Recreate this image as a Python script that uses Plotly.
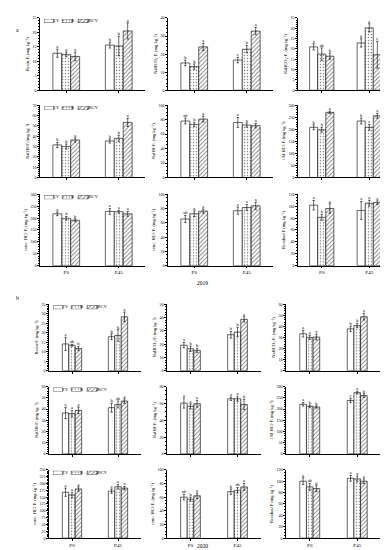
import plotly.graph_objects as go

W, H = 388, 550
FONT = "Liberation Serif"

series = ["CV", "R", "IRCV"]
times = ["P0", "P45"]
years = ["2019", "2020"]

titles = [
    "Resin-Pᵢ (mg kg⁻¹)",
    "NaHCO₃-Pᵢ (mg kg⁻¹)",
    "NaHCO₃-Pₒ (mg kg⁻¹)",
    "NaOH-Pᵢ (mg kg⁻¹)",
    "NaOH-Pₒ (mg kg⁻¹)",
    "1 M HCl-Pᵢ (mg kg⁻¹)",
    "conc. HCl-Pᵢ (mg kg⁻¹)",
    "conc. HCl-Pₒ (mg kg⁻¹)",
    "Residual P (mg kg⁻¹)",
]

# ---- 2019: values [CV, R, IRCV] x [P0, P45]
v19_resin_pi = [[12.8, 15.6], [12.4, 15.3], [11.7, 20.5]]
v19_nahco3_pi = [[15.1, 16.7], [13.1, 22.7], [24.0, 32.7]]
v19_nahco3_po = [[21.0, 22.9], [17.5, 30.2], [16.5, 17.2]]
v19_naoh_pi = [[31.5, 35.3], [29.9, 37.9], [36.3, 53.3]]
v19_naoh_po = [[78.0, 76.0], [73.4, 72.5], [80.7, 71.6]]
v19_hcl1_pi = [[208, 234], [198, 208], [270, 256]]
v19_chcl_pi = [[218, 228], [199, 227], [191, 218]]
v19_chcl_po = [[65.4, 77.0], [72.8, 81.6], [76.5, 83.9]]
v19_resid = [[101.7, 92.9], [81.3, 105.0], [96.2, 106.0]]

e19_resin_pi = [[1.4, 1.0], [0.8, 3.4], [1.5, 2.8]]
e19_nahco3_pi = [[1.6, 1.5], [1.5, 2.0], [2.0, 2.0]]
e19_nahco3_po = [[1.5, 2.0], [3.0, 2.0], [1.5, 6.5]]
e19_naoh_pi = [[2.5, 2.0], [2.5, 3.0], [2.0, 4.0]]
e19_naoh_po = [[4.0, 7.0], [3.0, 3.0], [4.0, 3.0]]
e19_hcl1_pi = [[10, 12], [10, 12], [5, 10]]
e19_chcl_pi = [[8, 12], [8, 6], [6, 10]]
e19_chcl_po = [[5, 5], [4, 4], [3, 5]]
e19_resid = [[8, 15], [5, 5], [8, 3]]

l19_resin_pi = [["a", "b"], ["a", "b"], ["a", "a"]]
l19_nahco3_pi = [["b", "c"], ["b", "b"], ["a", "a"]]
l19_nahco3_po = [["a", "b"], ["ab", "a"], ["b", "c"]]
l19_naoh_pi = [["b", "b"], ["b", "b"], ["a", "a"]]
l19_naoh_po = [["ab", "a"], ["b", "a"], ["a", "a"]]
l19_hcl1_pi = [["b", "b"], ["b", "c"], ["a", "a"]]
l19_chcl_pi = [["a", "a"], ["b", "a"], ["b", "a"]]
l19_chcl_po = [["ab", "a"], ["a", "a"], ["a", "a"]]
l19_resid = [["a", "a"], ["b", "a"], ["a", "a"]]

# ---- 2020
v20_resin_pi = [[14.1, 17.9], [13.4, 18.6], [11.7, 28.4]]
v20_nahco3_pi = [[19.2, 27.1], [16.5, 29.1], [15.3, 38.7]]
v20_nahco3_po = [[33.4, 37.8], [30.1, 40.8], [30.4, 48.8]]
v20_naoh_pi = [[36.5, 41.2], [35.9, 44.1], [38.8, 47.1]]
v20_naoh_po = [[60.4, 65.5], [56.5, 65.5], [59.6, 58.8]]
v20_hcl1_pi = [[221, 238], [212, 273], [209, 260]]
v20_chcl_pi = [[168, 172], [158, 188], [180, 183]]
v20_chcl_po = [[60.0, 68.0], [57.0, 70.0], [62.0, 75.0]]
v20_resid = [[100.0, 105.0], [90.0, 104.0], [87.0, 100.0]]

e20_resin_pi = [[3.5, 1.5], [0.5, 3.0], [1.0, 2.5]]
e20_nahco3_pi = [[2.0, 2.5], [2.0, 3.5], [1.5, 2.0]]
e20_nahco3_po = [[3.0, 2.5], [2.0, 2.0], [2.5, 3.0]]
e20_naoh_pi = [[5.0, 4.0], [3.0, 3.0], [3.0, 2.0]]
e20_naoh_po = [[6.0, 2.0], [3.0, 3.0], [4.0, 6.0]]
e20_hcl1_pi = [[8, 10], [6, 6], [5, 8]]
e20_chcl_pi = [[15, 8], [10, 8], [8, 6]]
e20_chcl_po = [[4, 4], [3, 4], [4, 5]]
e20_resid = [[6, 5], [6, 5], [5, 4]]

l20_resin_pi = [["a", "b"], ["ab", "b"], ["b", "a"]]
l20_nahco3_pi = [["a", "b"], ["b", "b"], ["b", "a"]]
l20_nahco3_po = [["a", "b"], ["a", "b"], ["a", "a"]]
l20_naoh_pi = [["a", "b"], ["a", "ab"], ["a", "a"]]
l20_naoh_po = [["a", "a"], ["a", "a"], ["a", "b"]]
l20_hcl1_pi = [["a", "c"], ["b", "a"], ["b", "b"]]
l20_chcl_pi = [["a", "a"], ["a", "a"], ["a", "a"]]
l20_chcl_po = [["ab", "b"], ["b", "ab"], ["a", "a"]]
l20_resid = [["a", "a"], ["ab", "a"], ["b", "a"]]

ymax19 = [25, 40, 35, 70, 100, 300, 300, 100, 120]
dtick19 = [5, 10, 5, 10, 20, 50, 50, 20, 20]
ymax20 = [35, 50, 60, 60, 80, 300, 250, 100, 120]
dtick20 = [5, 10, 10, 10, 20, 50, 25, 20, 20]

vals = {
    "2019": [v19_resin_pi, v19_nahco3_pi, v19_nahco3_po, v19_naoh_pi, v19_naoh_po,
             v19_hcl1_pi, v19_chcl_pi, v19_chcl_po, v19_resid],
    "2020": [v20_resin_pi, v20_nahco3_pi, v20_nahco3_po, v20_naoh_pi, v20_naoh_po,
             v20_hcl1_pi, v20_chcl_pi, v20_chcl_po, v20_resid],
}
errs = {
    "2019": [e19_resin_pi, e19_nahco3_pi, e19_nahco3_po, e19_naoh_pi, e19_naoh_po,
             e19_hcl1_pi, e19_chcl_pi, e19_chcl_po, e19_resid],
    "2020": [e20_resin_pi, e20_nahco3_pi, e20_nahco3_po, e20_naoh_pi, e20_naoh_po,
             e20_hcl1_pi, e20_chcl_pi, e20_chcl_po, e20_resid],
}
lets = {
    "2019": [l19_resin_pi, l19_nahco3_pi, l19_nahco3_po, l19_naoh_pi, l19_naoh_po,
             l19_hcl1_pi, l19_chcl_pi, l19_chcl_po, l19_resid],
    "2020": [l20_resin_pi, l20_nahco3_pi, l20_nahco3_po, l20_naoh_pi, l20_naoh_po,
             l20_hcl1_pi, l20_chcl_pi, l20_chcl_po, l20_resid],
}
ymaxs = {"2019": ymax19, "2020": ymax20}
dticks = {"2019": dtick19, "2020": dtick20}

# ---- layout geometry (pixels)
cols_px = {"2019": [(32, 137), (160, 265), (290, 385)],
           "2020": [(41, 133), (159, 253), (278, 373)]}
rows_px = {"2019": [(7, 80), (95, 168), (185, 257)],
           "2020": [(296, 363), (379, 447), (463, 532)]}
bar_w = {"2019": 0.17, "2020": 0.14}
patterns = ["", ".", "/"]
solid = [0.3, 0.2, 0.3]


def px_x(p):
    return p / W


def px_y(p):
    return 1 - p / H


def bar_marker(k):
    return dict(color="white", line=dict(color="black", width=0.6),
                pattern=dict(shape=patterns[k], fgcolor="black", bgcolor="white",
                             size=3, solidity=solid[k]))


fig = go.Figure()
layout = {}
ax = 0
for yr in years:
    for pi in range(9):
        r, c = divmod(pi, 3)
        ax += 1
        xa = "x" if ax == 1 else f"x{ax}"
        ya = "y" if ax == 1 else f"y{ax}"
        w = bar_w[yr]
        for k, s in enumerate(series):
            xs = [t + (k - 1) * w for t in range(len(times))]
            fig.add_trace(go.Bar(
                x=xs, y=vals[yr][pi][k], width=w, name=s, showlegend=False,
                marker=bar_marker(k),
                error_y=dict(type="data", array=errs[yr][pi][k], color="black",
                             thickness=0.6, width=1.2),
                xaxis=xa, yaxis=ya,
            ))
            tops = [v + e for v, e in zip(vals[yr][pi][k], errs[yr][pi][k])]
            fig.add_trace(go.Scatter(
                x=xs, y=tops, mode="text", text=lets[yr][pi][k],
                textposition="top center", showlegend=False,
                textfont=dict(size=4.5, family=FONT, color="black"),
                xaxis=xa, yaxis=ya, cliponaxis=False,
            ))
        x0, x1 = cols_px[yr][c]
        t0, t1 = rows_px[yr][r]
        layout[f"xaxis{ax}"] = dict(
            domain=[px_x(x0), px_x(x1)], anchor=ya, range=[-0.5, 1.5],
            tickvals=list(range(len(times))), ticktext=times,
            showticklabels=(r == 2),
            showline=True, linecolor="black", linewidth=0.6, ticks="outside",
            ticklen=2, tickwidth=0.6, tickcolor="black", showgrid=False, zeroline=False,
            tickfont=dict(size=5, family=FONT, color="black"), fixedrange=True,
        )
        layout[f"yaxis{ax}"] = dict(
            domain=[px_y(t1), px_y(t0)], anchor=xa, range=[0, ymaxs[yr][pi]],
            dtick=dticks[yr][pi], showline=True, linecolor="black", linewidth=0.6,
            ticks="outside", ticklen=2, tickwidth=0.6, tickcolor="black",
            showgrid=False, zeroline=False,
            tickfont=dict(size=4, family=FONT, color="black"),
            title=dict(text=titles[pi], font=dict(size=4.5, family=FONT, color="black"),
                       standoff=2),
            minor=dict(ticks="outside", ticklen=1, tickwidth=0.5, tickcolor="black"),
            fixedrange=True,
        )

# ---- legends (one per row, first column), drawn on tiny auxiliary axes (pixel units)
box_w, char_w, gap_in, gap_out = 10, 2.4, 1.0, 2.5
leg_pos = []
p = 0.0
for s in series:
    leg_pos.append(p)
    p += box_w + gap_in + len(s) * char_w + gap_out
leg_span = 62

for yr in years:
    for r in range(3):
        ax += 1
        xa, ya = f"x{ax}", f"y{ax}"
        x0 = cols_px[yr][0][0] + 4
        t0 = rows_px[yr][r][0] + 1
        for k, s in enumerate(series):
            fig.add_trace(go.Bar(
                x=[leg_pos[k] + box_w / 2], y=[1], width=box_w, showlegend=False,
                marker=bar_marker(k), xaxis=xa, yaxis=ya, hoverinfo="skip",
            ))
            fig.add_trace(go.Scatter(
                x=[leg_pos[k] + box_w + gap_in - 2], y=[0.5], mode="text", text=[s],
                textposition="middle right", showlegend=False,
                textfont=dict(size=4.5, family=FONT, color="black"),
                xaxis=xa, yaxis=ya, cliponaxis=False, hoverinfo="skip",
            ))
        layout[f"xaxis{ax}"] = dict(domain=[px_x(x0), px_x(x0 + leg_span)], anchor=ya,
                                   range=[0, leg_span], visible=False, fixedrange=True)
        layout[f"yaxis{ax}"] = dict(domain=[px_y(t0 + 4), px_y(t0)], anchor=xa,
                                   range=[0, 1], visible=False, fixedrange=True)

annotations = [
    dict(text="a", x=px_x(6), y=px_y(14), xref="paper", yref="paper",
         showarrow=False, font=dict(size=6, family=FONT, color="black")),
    dict(text="2019", x=0.5, y=px_y(274), xref="paper", yref="paper",
         showarrow=False, font=dict(size=5.5, family=FONT, color="black")),
    dict(text="b", x=px_x(6), y=px_y(290), xref="paper", yref="paper",
         showarrow=False, font=dict(size=6, family=FONT, color="black")),
    dict(text="2020", x=0.5, y=px_y(545), xref="paper", yref="paper",
         showarrow=False, font=dict(size=5.5, family=FONT, color="black")),
]

fig.update_layout(
    width=W, height=H, margin=dict(l=0, r=0, t=0, b=0),
    paper_bgcolor="white", plot_bgcolor="white", barmode="overlay",
    font=dict(family=FONT, color="black"), annotations=annotations,
    **layout,
)
fig.write_html("out.html", config={"displayModeBar": False})
